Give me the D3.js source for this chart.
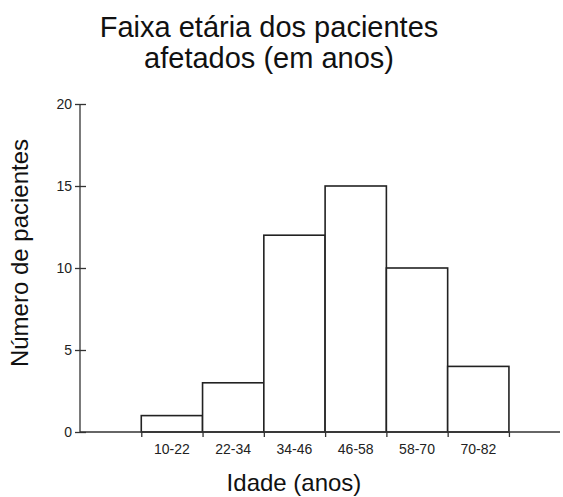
<!DOCTYPE html>
<meta charset="utf-8">
<style>
  html, body { margin:0; padding:0; background:#fff; overflow:hidden }
  text { font-family: Arial, "Liberation Sans", sans-serif; }
</style>
<svg id="chart" width="563" height="497"></svg>
<script src="https://cdn.jsdelivr.net/npm/d3@7/dist/d3.min.js"></script>
<script>

// age bins (in years) and number of patients per bin
var binStarts = [10, 22, 34, 46, 58, 70];
var binEnds   = [22, 34, 46, 58, 70, 82];
var binLabels = ["10-22", "22-34", "34-46", "46-58", "58-70", "70-82"];
var patients  = [1, 3, 12, 15, 10, 4];
var yTicks    = [0, 5, 10, 15, 20];

var svg = d3.select("#chart");

var x = d3.scaleLinear().domain([-2, 92]).range([80, 560]);
var y = d3.scaleLinear().domain([0, 20]).range([432, 104]);

// title
var title = svg.append("text")
    .attr("x", 269)
    .attr("y", 37)
    .attr("text-anchor", "middle")
    .style("font-size", "29px")
    .attr("fill", "#111");
title.append("tspan").attr("x", 269).text("Faixa etária dos pacientes");
title.append("tspan").attr("x", 269).attr("dy", 31).text("afetados (em anos)");

// bars
svg.selectAll("rect.bar")
    .data(patients)
    .enter().append("rect")
    .attr("class", "bar")
    .attr("x", function(d, i) { return x(binStarts[i]); })
    .attr("y", function(d) { return y(d); })
    .attr("width", function(d, i) { return x(binEnds[i]) - x(binStarts[i]); })
    .attr("height", function(d) { return y(0) - y(d); })
    .attr("fill", "#fff")
    .attr("stroke", "#222")
    .attr("stroke-width", 1.6);

// y axis
var yAxis = svg.append("g")
    .attr("transform", "translate(80,0)")
    .call(d3.axisLeft(y).tickValues(yTicks).tickSize(5).tickPadding(3));
yAxis.select(".domain").attr("d", "M0," + y(0) + "V" + y(20)).attr("stroke", "#333").attr("stroke-width", 1.3);
yAxis.selectAll(".tick line").attr("x1", -5).attr("x2", 6).attr("stroke", "#333").attr("stroke-width", 1.3);
yAxis.selectAll(".tick text").style("font-size", "14px").attr("fill", "#222")
    .style("font-family", "Arial, 'Liberation Sans', sans-serif");

// x axis: ticks at bin edges
var xAxis = svg.append("g")
    .attr("transform", "translate(0," + y(0) + ")")
    .call(d3.axisBottom(x).tickValues(binStarts.concat([82])).tickSize(5).tickFormat(""));
xAxis.select(".domain").attr("d", "M" + x(-2) + ",0H" + x(92)).attr("stroke", "#333").attr("stroke-width", 1.3);
xAxis.selectAll(".tick line").attr("stroke", "#333").attr("stroke-width", 1.3);

// bin labels centred under each bar
svg.selectAll("text.bin")
    .data(binLabels)
    .enter().append("text")
    .attr("class", "bin")
    .attr("x", function(d, i) { return x((binStarts[i] + binEnds[i]) / 2); })
    .attr("y", 454)
    .attr("text-anchor", "middle")
    .style("font-size", "14px")
    .attr("fill", "#222")
    .text(function(d) { return d; });

// axis titles
svg.append("text")
    .attr("x", 294)
    .attr("y", 491)
    .attr("text-anchor", "middle")
    .style("font-size", "24px")
    .attr("fill", "#111")
    .text("Idade (anos)");

svg.append("text")
    .attr("transform", "translate(28,253) rotate(-90)")
    .attr("text-anchor", "middle")
    .style("font-size", "24px")
    .attr("fill", "#111")
    .text("Número de pacientes");

</script>
